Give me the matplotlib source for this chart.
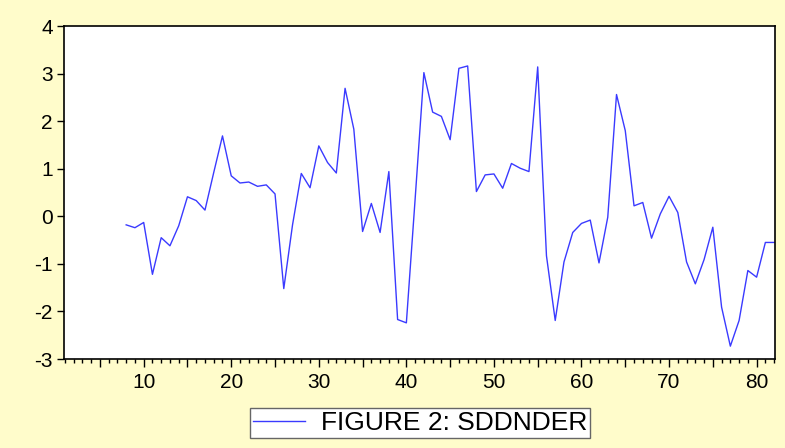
"""
Recreate EViews-style line chart: FIGURE 2: SDDNDER
"""

import numpy as np
import matplotlib.pyplot as plt
from matplotlib.ticker import MultipleLocator, FuncFormatter

# observations 8..82
obs = list(range(8, 83))
sddnder = [
    -0.18, -0.24, -0.13, -1.22, -0.45, -0.62, -0.20, 0.41, 0.33, 0.13,
    0.92, 1.69, 0.85, 0.70, 0.72, 0.63, 0.66, 0.47, -1.52, -0.18,
    0.90, 0.60, 1.48, 1.13, 0.91, 2.69, 1.83, -0.32, 0.27, -0.34,
    0.94, -2.17, -2.24, 0.36, 3.02, 2.19, 2.10, 1.61, 3.11, 3.16,
    0.52, 0.87, 0.89, 0.59, 1.11, 1.01, 0.94, 3.14, -0.83, -2.19,
    -0.96, -0.34, -0.15, -0.08, -0.98, -0.02, 2.56, 1.80, 0.22, 0.29,
    -0.46, 0.05, 0.42, 0.08, -0.96, -1.42, -0.91, -0.23, -1.91, -2.73,
    -2.19, -1.14, -1.28, -0.55, -0.55,
]
y_ticks = [-3, -2, -1, 0, 1, 2, 3, 4]
legend_label = "FIGURE 2: SDDNDER"

plt.rcParams["font.family"] = ["Liberation Sans", "DejaVu Sans"]
plt.rcParams["axes.unicode_minus"] = False

fig = plt.figure(figsize=(7.85, 4.48), dpi=100, facecolor="#fffccb")
ax = fig.add_axes([64 / 785, 1 - 359 / 448, (775 - 64) / 785, (359 - 26) / 448])
ax.set_facecolor("white")

ax.plot(obs, sddnder, color="#3a3aff", linewidth=1.0, label=legend_label)

ax.set_xlim(0.9, 82.1)
ax.set_ylim(-3, 4)
ax.set_yticks(y_ticks)

ax.xaxis.set_major_locator(MultipleLocator(5))
ax.xaxis.set_minor_locator(MultipleLocator(1))
ax.xaxis.set_major_formatter(
    FuncFormatter(lambda v, p: f"{int(v)}" if int(v) % 10 == 0 else "")
)

ax.tick_params(axis="x", which="major", direction="out", length=6, width=1,
               labelsize=15, pad=4)
ax.tick_params(axis="x", which="minor", direction="out", length=3, width=1)
ax.tick_params(axis="y", direction="out", length=5, width=1, labelsize=15, pad=3)
ax.tick_params(top=False, right=False)

for s in ax.spines.values():
    s.set_color("black")
    s.set_linewidth(1.2)

fig.legend(
    loc="center",
    bbox_to_anchor=(420 / 785, 1 - 423 / 448),
    fontsize=19,
    frameon=True,
    fancybox=False,
    edgecolor="#666666",
    facecolor="white",
    framealpha=1,
    handlelength=2.0,
    borderpad=0.1,
    handletextpad=0.6,
)

plt.savefig("out.png", dpi=100, facecolor=fig.get_facecolor())
plt.close()
